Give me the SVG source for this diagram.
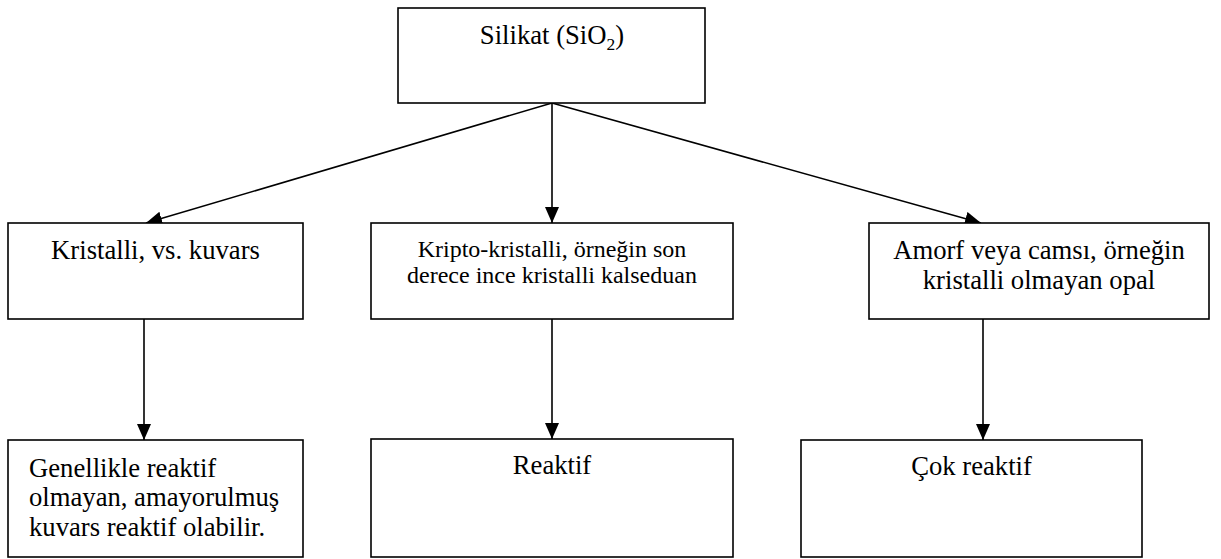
<svg xmlns="http://www.w3.org/2000/svg" width="1221" height="559" viewBox="0 0 1221 559">
<style>
  .box { fill: #ffffff; stroke: #000000; stroke-width: 1.6; }
  .c { text-anchor: middle; }
  .conn { stroke: #000000; stroke-width: 1.6; fill: none; marker-end: url(#arrow); }
</style>
<defs>
  <marker id="arrow" markerUnits="userSpaceOnUse" markerWidth="18" markerHeight="16" refX="16" refY="7" orient="auto">
    <path d="M0,0 L16,7 L0,14 z" fill="#000000"/>
  </marker>
</defs>
<rect width="1221" height="559" fill="#ffffff"/>
<g id="connectors">
  <line class="conn" x1="552" y1="103" x2="146" y2="223"/>
  <line class="conn" x1="552" y1="103" x2="552" y2="223"/>
  <line class="conn" x1="552" y1="103" x2="981" y2="223"/>
  <line class="conn" x1="144" y1="319" x2="144" y2="440"/>
  <line class="conn" x1="552" y1="319" x2="552" y2="439"/>
  <line class="conn" x1="983" y1="319" x2="983" y2="440"/>
</g>
<g font-family="'Liberation Serif', 'DejaVu Serif', serif" font-size="26.67" fill="#000000">
<g id="silikat">
  <rect class="box" x="398" y="8" width="307" height="95"/>
  <text class="c" x="552" y="44">Silikat (SiO<tspan font-size="17.5" dy="6">2</tspan><tspan dy="-6">)</tspan></text>
</g>
<g id="kristalli">
  <rect class="box" x="8" y="223" width="295" height="96"/>
  <text class="c" x="155.5" y="259">Kristalli, vs. kuvars</text>
</g>
<g id="kripto">
  <rect class="box" x="371" y="223" width="362" height="96"/>
  <text class="c" x="552" y="257" font-size="24">Kripto-kristalli, örneğin son</text>
  <text class="c" x="552" y="283" font-size="24">derece ince kristalli kalseduan</text>
</g>
<g id="amorf">
  <rect class="box" x="869" y="223" width="340" height="96"/>
  <text class="c" x="1039" y="259">Amorf veya camsı, örneğin</text>
  <text class="c" x="1039" y="289">kristalli olmayan opal</text>
</g>
<g id="genellikle">
  <rect class="box" x="8" y="440" width="295" height="117"/>
  <text x="29" y="477">Genellikle reaktif</text>
  <text x="29" y="506">olmayan, amayorulmuş</text>
  <text x="29" y="536">kuvars reaktif olabilir.</text>
</g>
<g id="reaktif">
  <rect class="box" x="371" y="439" width="362" height="118"/>
  <text class="c" x="552" y="474">Reaktif</text>
</g>
<g id="cokreaktif">
  <rect class="box" x="801" y="440" width="341" height="117"/>
  <text class="c" x="971.5" y="475">Çok reaktif</text>
</g>
</g>
</svg>
